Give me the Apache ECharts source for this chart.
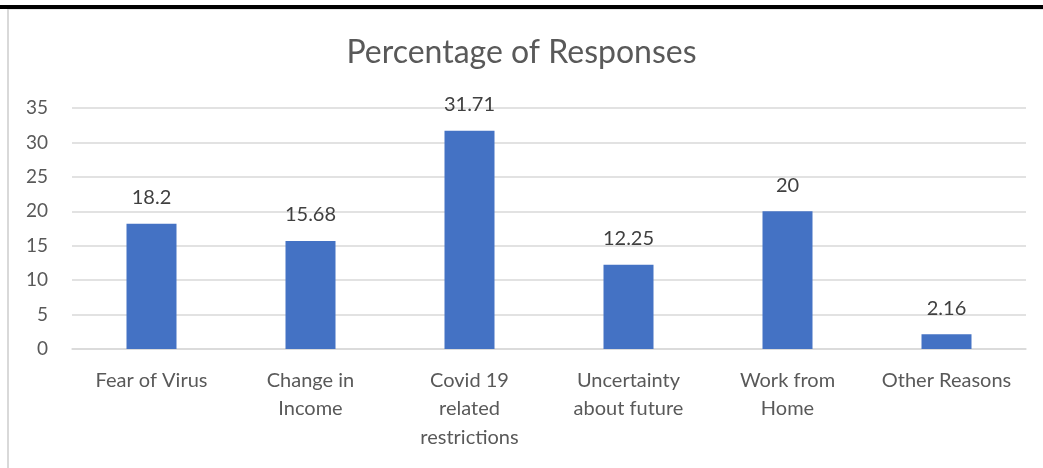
<!DOCTYPE html>
<html>
<head>
<meta charset="utf-8">
<script src="https://cdn.jsdelivr.net/npm/echarts@6/dist/echarts.min.js"></script>
<style>
  html, body { margin: 0; padding: 0; background: #ffffff; }
  #chart { width: 1043px; height: 468px; }
</style>
</head>
<body>
<div id="chart"></div>
<script>
// Reasons and their share of responses (%)
const categories = [
  'Fear of Virus',
  'Change in\nIncome',
  'Covid 19\nrelated\nrestrictions',
  'Uncertainty\nabout future',
  'Work from\nHome',
  'Other Reasons'
];
const responses = [18.2, 15.68, 31.71, 12.25, 20, 2.16];
const yTicks = { min: 0, max: 35, step: 5 };

const FONT = 'Lato, "Open Sans", sans-serif';

const chart = echarts.init(document.getElementById('chart'), null, { renderer: 'canvas' });
chart.setOption({
  backgroundColor: '#ffffff',
  animation: false,
  title: {
    text: 'Percentage of Responses',
    left: 'center',
    top: 32,
    textStyle: { fontFamily: FONT, fontSize: 32, fontWeight: 'normal', color: '#595959' }
  },
  graphic: [
    // dark rule across the top of the frame
    { type: 'rect', shape: { x: 0, y: 5, width: 1043, height: 4 }, style: { fill: '#000000' }, silent: true },
    { type: 'rect', shape: { x: 7, y: 9, width: 1036, height: 1 }, style: { fill: '#e6e6e6' }, silent: true },
    // light left edge of the frame
    { type: 'rect', shape: { x: 7, y: 9, width: 2, height: 459 }, style: { fill: '#d9d9d9' }, silent: true }
  ],
  grid: { left: 72, right: 17, top: 108, bottom: 119, containLabel: false },
  xAxis: {
    type: 'category',
    data: categories,
    axisLine: { show: true, lineStyle: { color: '#d9d9d9', width: 1.5 } },
    axisTick: { show: false },
    axisLabel: {
      interval: 0,
      margin: 17,
      fontFamily: FONT,
      fontSize: 20,
      lineHeight: 28.5,
      color: '#595959',
      align: 'center'
    }
  },
  yAxis: {
    type: 'value',
    min: yTicks.min,
    max: yTicks.max,
    interval: yTicks.step,
    axisLine: { show: false },
    axisTick: { show: false },
    splitLine: { lineStyle: { color: '#d9d9d9', width: 1.5 } },
    axisLabel: { margin: 24, fontFamily: FONT, fontSize: 19, color: '#595959' }
  },
  series: [{
    type: 'bar',
    data: responses,
    barWidth: 50,
    itemStyle: { color: '#4472c4' },
    label: {
      show: true,
      position: 'top',
      distance: 16,
      fontFamily: FONT,
      fontSize: 20,
      color: '#404040'
    }
  }]
});
</script>
</body>
</html>
